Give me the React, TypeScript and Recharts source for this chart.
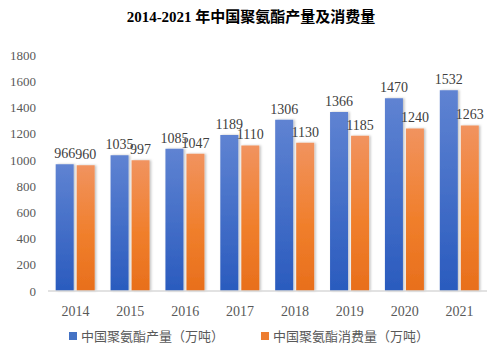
import { Bar, BarChart, LabelList, Legend, XAxis, YAxis } from "recharts";

const years = ["2014", "2015", "2016", "2017", "2018", "2019", "2020", "2021"];
const production = [966, 1035, 1085, 1189, 1306, 1366, 1470, 1532];
const consumption = [960, 997, 1047, 1110, 1130, 1185, 1240, 1263];
const yTicks = [0, 200, 400, 600, 800, 1000, 1200, 1400, 1600, 1800];

const seriesNames = ["中国聚氨酯产量（万吨）", "中国聚氨酯消费量（万吨）"];

const rows = years.map((year, i) => ({
  year,
  production: production[i],
  consumption: consumption[i]
}));

const serif = '"Liberation Serif", "Times New Roman", serif';
const cjk = '"Liberation Serif", "Noto Sans CJK SC", serif';

function LegendRow() {
  const items = [
    { name: seriesNames[0], color: "#4472c4" },
    { name: seriesNames[1], color: "#ed7d31" }
  ];
  return (
    <div style={{ display: "flex", paddingLeft: 69, paddingTop: 4, fontFamily: cjk, fontSize: 13, color: "#595959" }}>
      {items.map((it, i) => (
        <div key={it.name} style={{ display: "flex", alignItems: "center", marginRight: i === 0 ? 37 : 0 }}>
          <span style={{ width: 8, height: 8, background: it.color, marginRight: 4, display: "inline-block" }} />
          <span>{it.name}</span>
        </div>
      ))}
    </div>
  );
}

export default function App() {
  return (
    <div style={{ position: "absolute", left: 0, top: 0, width: 502, height: 354, background: "#fff" }}>
      <div
        style={{
          position: "absolute",
          top: 5,
          left: 0,
          width: 502,
          textAlign: "center",
          fontFamily: '"Liberation Serif", "Noto Sans CJK SC", serif',
          fontWeight: 700,
          fontSize: 15,
          color: "#000"
        }}
      >
        2014-2021 年中国聚氨酯产量及消费量
      </div>
      <BarChart
        width={502}
        height={354}
        data={rows}
        margin={{ top: 55, right: 15, left: 8, bottom: 8 }}
        barCategoryGap="14%"
        barGap={3}
      >
        <defs>
          <linearGradient id="gBlue" x1="0" y1="0" x2="0" y2="1">
            <stop offset="0%" stopColor="#5f83d2" />
            <stop offset="100%" stopColor="#2a5bbe" />
          </linearGradient>
          <linearGradient id="gOrange" x1="0" y1="0" x2="0" y2="1">
            <stop offset="0%" stopColor="#f1935f" />
            <stop offset="55%" stopColor="#f07f2c" />
            <stop offset="100%" stopColor="#e86f1c" />
          </linearGradient>
          <filter id="shadow" x="-20%" y="-5%" width="150%" height="110%">
            <feDropShadow dx="1.5" dy="0" stdDeviation="1" floodColor="#000" floodOpacity="0.25" />
          </filter>
        </defs>
        <XAxis
          dataKey="year"
          height={31}
          tickLine={false}
          axisLine={{ stroke: "#d9d9d9", strokeWidth: 1.5 }}
          tick={{ fill: "#595959", fontSize: 14, fontFamily: serif }}
          tickMargin={9}
        />
        <YAxis
          width={40}
          domain={[0, 1800]}
          ticks={yTicks}
          interval={0}
          axisLine={false}
          tickLine={false}
          tickSize={0}
          tickMargin={12}
          tick={{ fill: "#595959", fontSize: 13, fontFamily: serif }}
        />
        <Legend verticalAlign="bottom" height={24} wrapperStyle={{ left: 0, width: 502 }} content={() => <LegendRow />} />
        <Bar dataKey="production" name={seriesNames[0]} fill="url(#gBlue)" filter="url(#shadow)" isAnimationActive={false}>
          <LabelList dataKey="production" position="top" offset={6} fill="#404040" fontSize={14} fontFamily={serif} />
        </Bar>
        <Bar dataKey="consumption" name={seriesNames[1]} fill="url(#gOrange)" filter="url(#shadow)" isAnimationActive={false}>
          <LabelList dataKey="consumption" position="top" offset={6} fill="#404040" fontSize={14} fontFamily={serif} />
        </Bar>
      </BarChart>
    </div>
  );
}
